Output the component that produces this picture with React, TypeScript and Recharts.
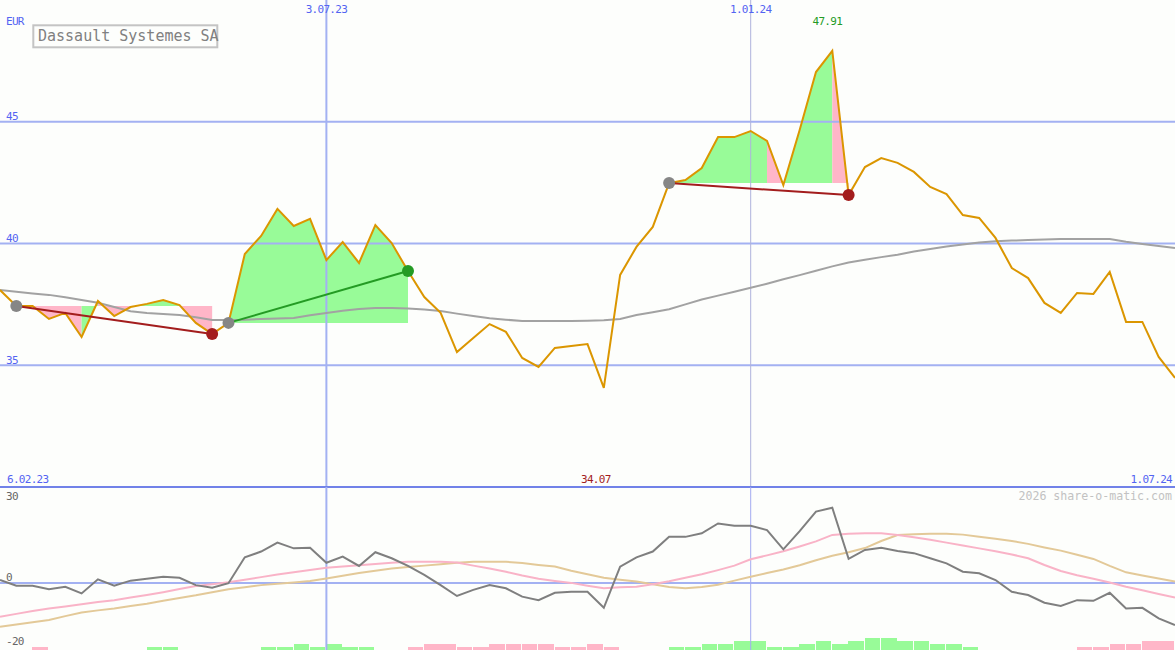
import React from 'react';
import { ComposedChart, Line, Area, Bar, XAxis, YAxis, ReferenceLine } from 'recharts';

// ---------------- data (weekly, index 0..72) ----------------
const price = [
  38.09, 37.43, 37.43, 36.90, 37.15, 36.16, 37.64, 37.02, 37.39, 37.52,
  37.68, 37.47, 36.74, 36.28, 36.74, 39.57, 40.31, 41.42, 40.72, 41.01,
  39.32, 40.06, 39.20, 40.76, 40.02, 38.87, 37.80, 37.15, 35.54, 36.12,
  36.69, 36.37, 35.30, 34.93, 35.71, 35.79, 35.87, 34.07, 38.71, 39.86,
  40.68, 42.48, 42.61, 43.10, 44.37, 44.37, 44.62, 44.21, 42.40, 44.66,
  47.04, 47.91, 41.99, 43.14, 43.51, 43.31, 42.94, 42.32, 42.03, 41.17,
  41.05, 40.23, 38.99, 38.58, 37.56, 37.15, 37.97, 37.93, 38.83, 36.78,
  36.78, 35.34, 34.48,
];
const movingAvg = [
  38.09, 38.02, 37.95, 37.89, 37.79, 37.68, 37.57, 37.39, 37.22, 37.15,
  37.10, 37.06, 36.97, 36.86, 36.86, 36.87, 36.90, 36.92, 36.94, 37.05,
  37.15, 37.24, 37.31, 37.35, 37.35, 37.33, 37.29, 37.23, 37.12, 37.02,
  36.93, 36.87, 36.82, 36.82, 36.82, 36.82, 36.83, 36.85, 36.90, 37.06,
  37.18, 37.30, 37.50, 37.70, 37.86, 38.02, 38.18, 38.35, 38.53, 38.70,
  38.88, 39.06, 39.22, 39.33, 39.44, 39.54, 39.67, 39.77, 39.88, 39.96,
  40.04, 40.09, 40.12, 40.14, 40.16, 40.18, 40.18, 40.18, 40.18, 40.07,
  39.98, 39.90, 39.82,
];
const momentum = [
  0.9, -0.9, -0.9, -2.0, -1.2, -3.3, 1.1, -0.9, 0.7, 1.3,
  1.9, 1.6, -0.7, -1.5, -0.1, 8.0, 9.8, 12.6, 10.8, 11.0,
  6.3, 8.2, 5.3, 9.6, 7.7, 5.3, 2.5, -0.7, -4.1, -2.2,
  -0.7, -1.7, -4.3, -5.4, -3.1, -2.8, -2.8, -7.8, 5.1, 8.0,
  9.8, 14.4, 14.4, 15.5, 18.6, 17.9, 17.9, 16.5, 10.5, 16.2,
  22.3, 23.5, 7.5, 10.3, 11.0, 10.0, 9.3, 7.7, 6.1, 3.5,
  3.0, 0.9, -2.8, -3.8, -6.2, -7.2, -5.4, -5.6, -3.1, -8.0,
  -7.8, -11.1, -13.2,
];
const fastSignal = [
  -10.6, -9.7, -8.8, -8.0, -7.4, -6.7, -6.0, -5.4, -4.6, -3.8,
  -2.9, -1.9, -1.0, -0.4, 0.2, 1.0, 1.8, 2.6, 3.3, 4.0,
  4.7, 5.1, 5.5, 5.9, 6.3, 6.6, 6.6, 6.6, 6.4, 5.4,
  4.5, 3.5, 2.3, 1.3, 0.6, 0.0, -0.9, -1.7, -1.4, -1.2,
  -0.4, 0.5, 1.6, 2.7, 4.0, 5.4, 7.4, 8.6, 9.9, 11.4,
  13.0, 15.0, 15.4, 15.5, 15.5, 15.0, 14.3, 13.5, 12.6, 11.7,
  10.8, 9.9, 8.9, 7.7, 5.6, 3.7, 2.4, 1.3, 0.1, -1.2,
  -2.3, -3.5, -4.6,
];
const slowSignal = [
  -13.7, -13.0, -12.3, -11.6, -10.4, -9.3, -8.6, -8.0, -7.2, -6.5,
  -5.6, -4.7, -3.9, -2.9, -2.0, -1.4, -0.7, -0.3, 0.1, 0.6,
  1.4, 2.2, 3.1, 3.8, 4.5, 5.0, 5.4, 5.8, 6.3, 6.6,
  6.6, 6.6, 6.2, 5.6, 5.1, 3.8, 2.7, 1.6, 1.0, 0.4,
  -0.4, -1.3, -1.7, -1.3, -0.6, 0.7, 1.9, 3.1, 4.2, 5.5,
  7.1, 8.5, 9.6, 10.9, 13.1, 15.0, 15.2, 15.4, 15.4, 15.1,
  14.4, 13.8, 13.1, 12.2, 11.1, 10.1, 8.8, 7.5, 5.3, 3.3,
  2.3, 1.4, 0.4,
];
const histogram = [
  0, 0, -1, 0, 0, 0, 0, 0, 0, 1,
  1, 0, 0, 0, 0, 0, 1, 1, 2, 1,
  2, 1, 1, 0, 0, -1, -2, -2, -1, -1,
  -2, -2, -2, -2, -1, -1, -2, -1, 0, 0,
  0, 1, 1, 2, 2, 3, 3, 1, 1, 2,
  3, 2, 3, 4, 4, 3, 3, 2, 2, 1,
  0, 0, 0, 0, 0, 0, -1, -1, -2, -2,
  -3, -3, 0,
];
const signalStart = [1, 14, 41];
const signalEnd = [13, 25, 52];

const priceDomain = [30, 50];
const priceTicks = [35, 40, 45];
const oscDomain = [-21, 30];
const oscTicks = [-20, 0, 30];
const oscGridTicks = [0];
const histDomain = [0, 54.33];
const dateTickIndex = [20, 46];
const dateTickLabel = ['3.07.23', '1.01.24'];
const rangeLabel = ['6.02.23', '1.07.24'];
const titleText = 'Dassault Systemes SA';
const unitText = 'EUR';
const creditText = '2026 share-o-matic.com';

// ---------------- styles ----------------
const W = 1175;
const LAST = price.length - 1;
const BAR_W = W / LAST;
const FONT = '"DejaVu Sans Mono", monospace';
const BG = '#fdfefc';
const GRID = '#a3b1f2';
const GRID_THIN = '#aeb2dc';
const SEP = '#7182e8';
const BLUE_TXT = '#5364f2';
const GRAY_TXT = '#666666';
const ORANGE = '#db9600';
const MA_C = '#a2a2a2';
const GREEN_FILL = '#98fb98';
const PINK_FILL = '#ffb6c8';
const TREND_RED = '#a31d1d';
const TREND_GREEN = '#249b24';
const DOT_GRAY = '#868686';
const MOM_C = '#7f7f7f';
const FAST_C = '#f9b3c7';
const SLOW_C = '#e3c998';

// ---------------- build table ----------------
const rows: any[] = price.map((p, i) => ({
  i,
  price: p,
  ma: movingAvg[i],
  mom: momentum[i],
  fast: fastSignal[i],
  slow: slowSignal[i],
  histAbs: histogram[i] === 0 ? null : Math.abs(histogram[i]),
  histSign: histogram[i],
}));

const maxVal = Math.max(...price);
const minVal = Math.min(...price);
rows[price.indexOf(maxVal)].ext = maxVal;
rows[price.indexOf(minVal)].ext = minVal;

signalStart.forEach((s, k) => {
  const e = signalEnd[k];
  rows[s][`tr${k}`] = price[s];
  rows[e][`tr${k}`] = price[e];
});

type Run = { key: string; color: string; from: number; to: number; base: number };
const runs: Run[] = [];
signalStart.forEach((s, k) => {
  const e = signalEnd[k];
  const base = price[s];
  let cur: Run | null = null;
  for (let j = s; j < e; j++) {
    const color = price[j + 1] > base ? GREEN_FILL : PINK_FILL;
    if (!cur || cur.color !== color) {
      cur = { key: `run${runs.length}`, color, from: j, to: j + 1, base };
      runs.push(cur);
    } else {
      cur.to = j + 1;
    }
  }
});
runs.forEach((r) => {
  for (let j = r.from; j <= r.to; j++) rows[j][r.key] = [r.base, price[j]];
});

const trendColor = (k: number) =>
  price[signalEnd[k]] > price[signalStart[k]] ? TREND_GREEN : TREND_RED;

// ---------------- renderers ----------------
const txt = { fontFamily: FONT, fontSize: 11, letterSpacing: '-0.7px' } as const;

const valueLabel = (value: number, color: string, below: boolean) => (props: any) => {
  const vb = props.viewBox || {};
  return (
    <text x={(vb.x || 0) + 6} y={below ? vb.y + 13 : vb.y - 1.5} fill={color} style={txt}>
      {value}
    </text>
  );
};

const dateLabel = (k: number) => (props: any) => {
  const vb = props.viewBox || {};
  return (
    <text x={vb.x} y={(vb.y || 0) + 13} textAnchor="middle" fill={BLUE_TXT} style={txt}>
      {dateTickLabel[k]}
    </text>
  );
};

const rangeLabels = (props: any) => {
  const vb = props.viewBox || {};
  return (
    <g>
      <text x={vb.x + 7} y={vb.y - 4} fill={BLUE_TXT} style={txt}>
        {rangeLabel[0]}
      </text>
      <text x={vb.x + vb.width - 3} y={vb.y - 4} textAnchor="end" fill={BLUE_TXT} style={txt}>
        {rangeLabel[1]}
      </text>
    </g>
  );
};

const extLabel = (props: any) => {
  const { x, value } = props;
  if (value === null || value === undefined) return null;
  const isMax = value === maxVal;
  return (
    <text
      x={isMax ? x - 5 : x - 8}
      y={isMax ? 25 : 483}
      textAnchor="middle"
      fill={isMax ? '#249b24' : '#a31d1d'}
      style={txt}
    >
      {Number(value).toFixed(2)}
    </text>
  );
};

const trendDot = (k: number) => (props: any) => {
  const { cx, cy, index, value } = props;
  if (value === null || value === undefined || cx == null || cy == null) return <g key={`d${k}-${index}`} />;
  const fill = index === signalStart[k] ? DOT_GRAY : trendColor(k);
  return <circle key={`d${k}-${index}`} cx={cx} cy={cy} r={6} fill={fill} stroke="none" />;
};

const HistBar = (props: any) => {
  const { x, y, width, height, payload } = props;
  if (!height || !width) return <g />;
  return (
    <rect
      x={x + width / 2 - 0.4}
      y={y}
      width={width + 0.8}
      height={height}
      fill={payload.histSign > 0 ? GREEN_FILL : PINK_FILL}
      shapeRendering="crispEdges"
    />
  );
};

export default function App() {
  return (
    <div style={{ position: 'relative', width: W, height: 650, background: BG, overflow: 'hidden' }}>
      <style>{'body{margin:0;background:' + BG + ';}'}</style>

      <div style={{ position: 'absolute', left: 0, top: 0 }}>
        <ComposedChart width={W} height={489} data={rows} margin={{ top: 0, right: 0, bottom: 2, left: 0 }}>
          <XAxis dataKey="i" type="number" domain={[0, LAST]} hide />
          <YAxis type="number" domain={priceDomain} hide />
          {priceTicks.map((t) => (
            <ReferenceLine key={`p${t}`} y={t} stroke={GRID} strokeWidth={2} label={valueLabel(t, BLUE_TXT, false)} />
          ))}
          <ReferenceLine x={dateTickIndex[0]} stroke={GRID} strokeWidth={2} label={dateLabel(0)} />
          <ReferenceLine x={dateTickIndex[1]} stroke={GRID_THIN} strokeWidth={1} label={dateLabel(1)} />
          <ReferenceLine y={priceDomain[0]} stroke={SEP} strokeWidth={2} label={rangeLabels} />
          {runs.map((r) => (
            <Area
              key={r.key}
              dataKey={r.key}
              type="linear"
              stroke="none"
              fill={r.color}
              fillOpacity={1}
              dot={false}
              activeDot={false}
              isAnimationActive={false}
            />
          ))}
          <Line dataKey="ma" type="linear" stroke={MA_C} strokeWidth={2} dot={false} activeDot={false} isAnimationActive={false} />
          <Line dataKey="price" type="linear" stroke={ORANGE} strokeWidth={2} dot={false} activeDot={false} isAnimationActive={false} />
          {signalStart.map((s, k) => (
            <Line
              key={`tr${k}`}
              dataKey={`tr${k}`}
              type="linear"
              connectNulls
              stroke={trendColor(k)}
              strokeWidth={2}
              dot={trendDot(k)}
              activeDot={false}
              isAnimationActive={false}
            />
          ))}
          <Line dataKey="ext" stroke="none" dot={false} activeDot={false} label={extLabel} isAnimationActive={false} />
        </ComposedChart>
      </div>

      <div style={{ position: 'absolute', left: 0, top: 487 }}>
        <ComposedChart width={W} height={163} data={rows} margin={{ top: 0, right: 0, bottom: 0, left: 0 }}>
          <XAxis dataKey="i" type="number" domain={[0, LAST]} hide />
          <YAxis yAxisId="osc" type="number" domain={oscDomain} hide />
          <YAxis yAxisId="hist" type="number" domain={histDomain} hide />
          {oscTicks.map((t) => (
            <ReferenceLine
              key={`o${t}`}
              yAxisId="osc"
              y={t}
              stroke={oscGridTicks.includes(t) ? GRID : 'none'}
              strokeWidth={2}
              label={valueLabel(t, GRAY_TXT, t === oscDomain[1])}
            />
          ))}
          <ReferenceLine yAxisId="osc" x={dateTickIndex[0]} stroke={GRID} strokeWidth={2} />
          <ReferenceLine yAxisId="osc" x={dateTickIndex[1]} stroke="#a3abf0" strokeWidth={1} />
          <Bar yAxisId="hist" dataKey="histAbs" barSize={BAR_W} shape={HistBar} isAnimationActive={false} />
          <Line yAxisId="osc" dataKey="slow" type="linear" stroke={SLOW_C} strokeWidth={2} dot={false} activeDot={false} isAnimationActive={false} />
          <Line yAxisId="osc" dataKey="fast" type="linear" stroke={FAST_C} strokeWidth={2} dot={false} activeDot={false} isAnimationActive={false} />
          <Line yAxisId="osc" dataKey="mom" type="linear" stroke={MOM_C} strokeWidth={2} dot={false} activeDot={false} isAnimationActive={false} />
        </ComposedChart>
      </div>

      <svg width={W} height={650} style={{ position: 'absolute', left: 0, top: 0, pointerEvents: 'none' }}>
        <text x={6} y={25} fill={BLUE_TXT} style={txt}>{unitText}</text>
        <rect x={33.3} y={25.3} width={184} height={22} fill={BG} stroke="#c4c4c4" strokeWidth={2} />
        <text x={38} y={41} fill="#808080" style={{ fontFamily: FONT, fontSize: 15 }}>{titleText}</text>
        <text x={1172} y={500} textAnchor="end" fill="#c2c2c2" style={{ fontFamily: FONT, fontSize: 11.6 }}>{creditText}</text>
      </svg>
    </div>
  );
}
